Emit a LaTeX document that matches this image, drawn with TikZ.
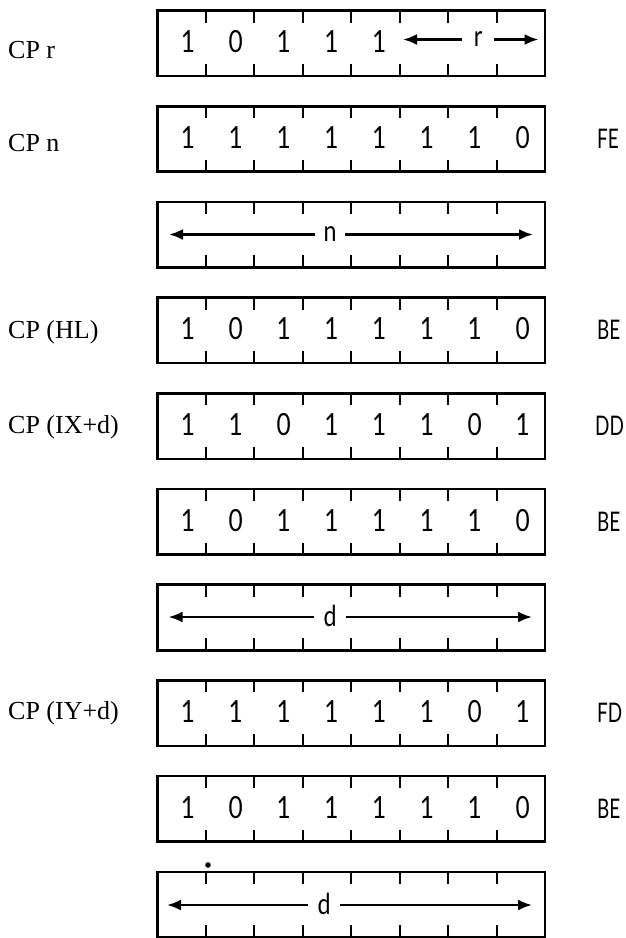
\documentclass[tikz,border=0pt]{standalone}
\usepackage{fontspec}
\usetikzlibrary{arrows.meta,calc}
\newfontfamily\cplabel{Liberation Serif}
\newfontfamily\gothic[FakeStretch=0.8]{Lato}
\newfontfamily\gothicn[FakeStretch=0.7]{Lato}
\tikzset{
  regbox/.style={draw, line width=2.6pt, minimum width=387.5pt, minimum height=65.5pt, inner sep=0pt, outer sep=0pt},
  tick/.style={line width=2pt},
  bit/.style={font=\gothic\fontsize{30.5}{32}\selectfont, inner sep=0pt, text height=22pt, text depth=0pt, anchor=center},
  hexlbl/.style={font=\gothicn\fontsize{27}{29}\selectfont, inner sep=0pt, anchor=base west},
  oplbl/.style={font=\cplabel\fontsize{26}{28}\selectfont, inner sep=0pt, anchor=base west},
  fieldlbl/.style={font=\gothic\fontsize{29}{30}\selectfont, inner sep=0pt, minimum width=31pt, text depth=0pt, anchor=center},
  arr/.style={line width=2.5pt, -{Latex[length=14pt,width=11pt]}},
}
\begin{document}
\begin{tikzpicture}[x=1pt,y=-1pt]
\useasboundingbox (0,0) rectangle (626,938);
% boxes
\foreach \i in {0,...,9}{
  \node[regbox] (b\i) at (351.25,{43.25+95.7*\i}) {};
  \foreach \k in {1,...,7}{
    \draw[tick] ($(b\i.north west)!\k/8!(b\i.north east)$) -- ++(0,12);
    \draw[tick] ($(b\i.south west)!\k/8!(b\i.south east)$) -- ++(0,-12);
  }
}
% bits
\foreach \d [count=\k from 0] in {1,0,1,1,1}
  \node[bit] (r0-\k) at ({188+47.8*\k},41.75) {\d};
\foreach \d [count=\k from 0] in {1,1,1,1,1,1,1,0}
  \node[bit] (r1-\k) at ({188+47.8*\k},137.45) {\d};
\foreach \d [count=\k from 0] in {1,0,1,1,1,1,1,0}
  \node[bit] (r3-\k) at ({188+47.8*\k},328.85) {\d};
\foreach \d [count=\k from 0] in {1,1,0,1,1,1,0,1}
  \node[bit] (r4-\k) at ({188+47.8*\k},424.55) {\d};
\foreach \d [count=\k from 0] in {1,0,1,1,1,1,1,0}
  \node[bit] (r5-\k) at ({188+47.8*\k},520.25) {\d};
\foreach \d [count=\k from 0] in {1,1,1,1,1,1,0,1}
  \node[bit] (r7-\k) at ({188+47.8*\k},711.65) {\d};
\foreach \d [count=\k from 0] in {1,0,1,1,1,1,1,0}
  \node[bit] (r8-\k) at ({188+47.8*\k},807.35) {\d};
% field labels with arrows
\node[fieldlbl, text height=13pt, minimum width=32pt] (fr) at (478,39.5) {r};
\coordinate (frL) at (403,39.5);
\coordinate (frR) at (538.5,39.5);
\draw[arr] (fr.west) -- (frL);
\draw[arr] (fr.east) -- (frR);

\node[fieldlbl, text height=14pt, minimum width=30pt] (fn) at (330,234.5) {n};
\coordinate (fnL) at (169,234.5);
\coordinate (fnR) at (533,234.5);
\draw[arr] (fn.west) -- (fnL);
\draw[arr] (fn.east) -- (fnR);

\node[fieldlbl, text height=19pt, minimum width=31pt] (fd1) at (330,617) {d};
\coordinate (fd1L) at (168.5,617);
\coordinate (fd1R) at (532,617);
\draw[arr] (fd1.west) -- (fd1L);
\draw[arr] (fd1.east) -- (fd1R);

\node[fieldlbl, text height=19pt, minimum width=32pt] (fd2) at (324,905) {d};
\coordinate (fd2L) at (167,905);
\coordinate (fd2R) at (532,905);
\draw[arr] (fd2.west) -- (fd2L);
\draw[arr] (fd2.east) -- (fd2R);
% instruction labels
\node[oplbl] (opr) at (8,58.3) {CP r};
\node[oplbl] (opn) at (8,151.7) {CP n};
\node[oplbl] (ophl) at (8,338.3) {CP (HL)};
\node[oplbl] (opix) at (8,433.3) {CP (IX+d)};
\node[oplbl] (opiy) at (8,719.7) {CP (IY+d)};
% hex labels
\node[hexlbl] (h1) at (597,148.4) {FE};
\node[hexlbl] (h3) at (597,339.8) {BE};
\node[hexlbl] (h4) at (595,435.5) {DD};
\node[hexlbl] (h5) at (597,531.2) {BE};
\node[hexlbl] (h7) at (597,722.6) {FD};
\node[hexlbl] (h8) at (597,818.3) {BE};
% stray dot
\fill (208,865) circle (2.8);
\end{tikzpicture}
\end{document}
